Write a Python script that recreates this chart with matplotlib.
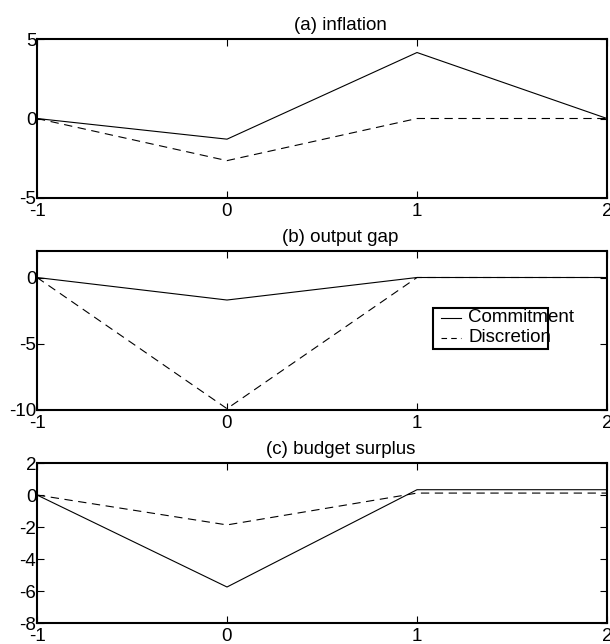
import matplotlib
matplotlib.use('Agg')
import matplotlib.pyplot as plt
from matplotlib.patches import Rectangle
from matplotlib.lines import Line2D

plt.rcParams['font.family'] = ['Liberation Sans', 'DejaVu Sans']
plt.rcParams['font.size'] = 13.5
plt.rcParams['lines.scale_dashes'] = False
plt.rcParams['axes.unicode_minus'] = False

periods = [-1, 0, 1, 2]

inflation_commit = [0, -1.3, 4.15, 0]
inflation_discr = [0, -2.65, 0, 0]

gap_commit = [0, -1.7, 0, 0]
gap_discr = [0, -9.9, 0, 0]

surplus_commit = [0, -5.75, 0.33, 0.33]
surplus_discr = [0, -1.87, 0.12, 0.12]

titles = ['(a) inflation', '(b) output gap', '(c) budget surplus']
ylims = [(-5, 5), (-10, 2), (-8, 2)]
yticks = [[-5, 0, 5], [-10, -5, 0], [-8, -6, -4, -2, 0, 2]]
xticks = [-1, 0, 1, 2]

W, H = 610, 644
# axes boxes in pixels: (top, bottom)
boxes = [(39, 198), (251, 410), (463, 623)]
left_px, right_px = 37, 607

fig = plt.figure(figsize=(W / 100, H / 100), dpi=100)

series = [(inflation_commit, inflation_discr),
          (gap_commit, gap_discr),
          (surplus_commit, surplus_discr)]

axes = []
for i, (top, bot) in enumerate(boxes):
    ax = fig.add_axes([left_px / W, 1 - bot / H,
                       (right_px - left_px) / W, (bot - top) / H])
    commit, discr = series[i]
    ax.plot(periods, commit, color='black', linewidth=0.8, label='Commitment')
    ax.plot(periods, discr, color='black', linewidth=0.8,
            dashes=(6, 4), label='Discretion')
    ax.set_xlim(-1, 2)
    ax.set_ylim(*ylims[i])
    ax.set_xticks(xticks)
    ax.set_yticks(yticks[i])
    ax.tick_params(direction='in', top=True, right=True, length=5,
                   width=0.8, labelsize=13.5)
    ax.tick_params(axis='x', pad=3.5)
    ax.tick_params(axis='y', pad=0.5)
    for s in ax.spines.values():
        s.set_linewidth(1.5)
    ax.set_title(titles[i], fontsize=13.5, pad=6.5, x=0.532)
    axes.append(ax)

# legend drawn by hand so the text runs past the frame like the original
ax = axes[1]
trans = ax.transAxes
def px_to_ax(x, y):
    top, bot = boxes[1]
    return ((x - left_px) / (right_px - left_px), (bot - y) / (bot - top))

x0, y0 = px_to_ax(433, 349)
x1, y1 = px_to_ax(548, 308)
ax.add_patch(Rectangle((x0, y0), x1 - x0, y1 - y0, transform=trans,
                       fill=False, edgecolor='black', linewidth=1.5))
for label, yy, dash in [('Commitment', 318, None), ('Discretion', 338, (4, 3))]:
    la, ya = px_to_ax(441, yy)
    lb, _ = px_to_ax(461, yy)
    ln = Line2D([la, lb], [ya, ya], transform=trans, color='black', linewidth=0.8)
    if dash:
        ln.set_dashes(dash)
    ax.add_line(ln)
    tx, _ = px_to_ax(468, yy)
    ax.text(tx, ya, label, transform=trans, va='center', ha='left', fontsize=13.5)

fig.savefig('out.png', dpi=100)
